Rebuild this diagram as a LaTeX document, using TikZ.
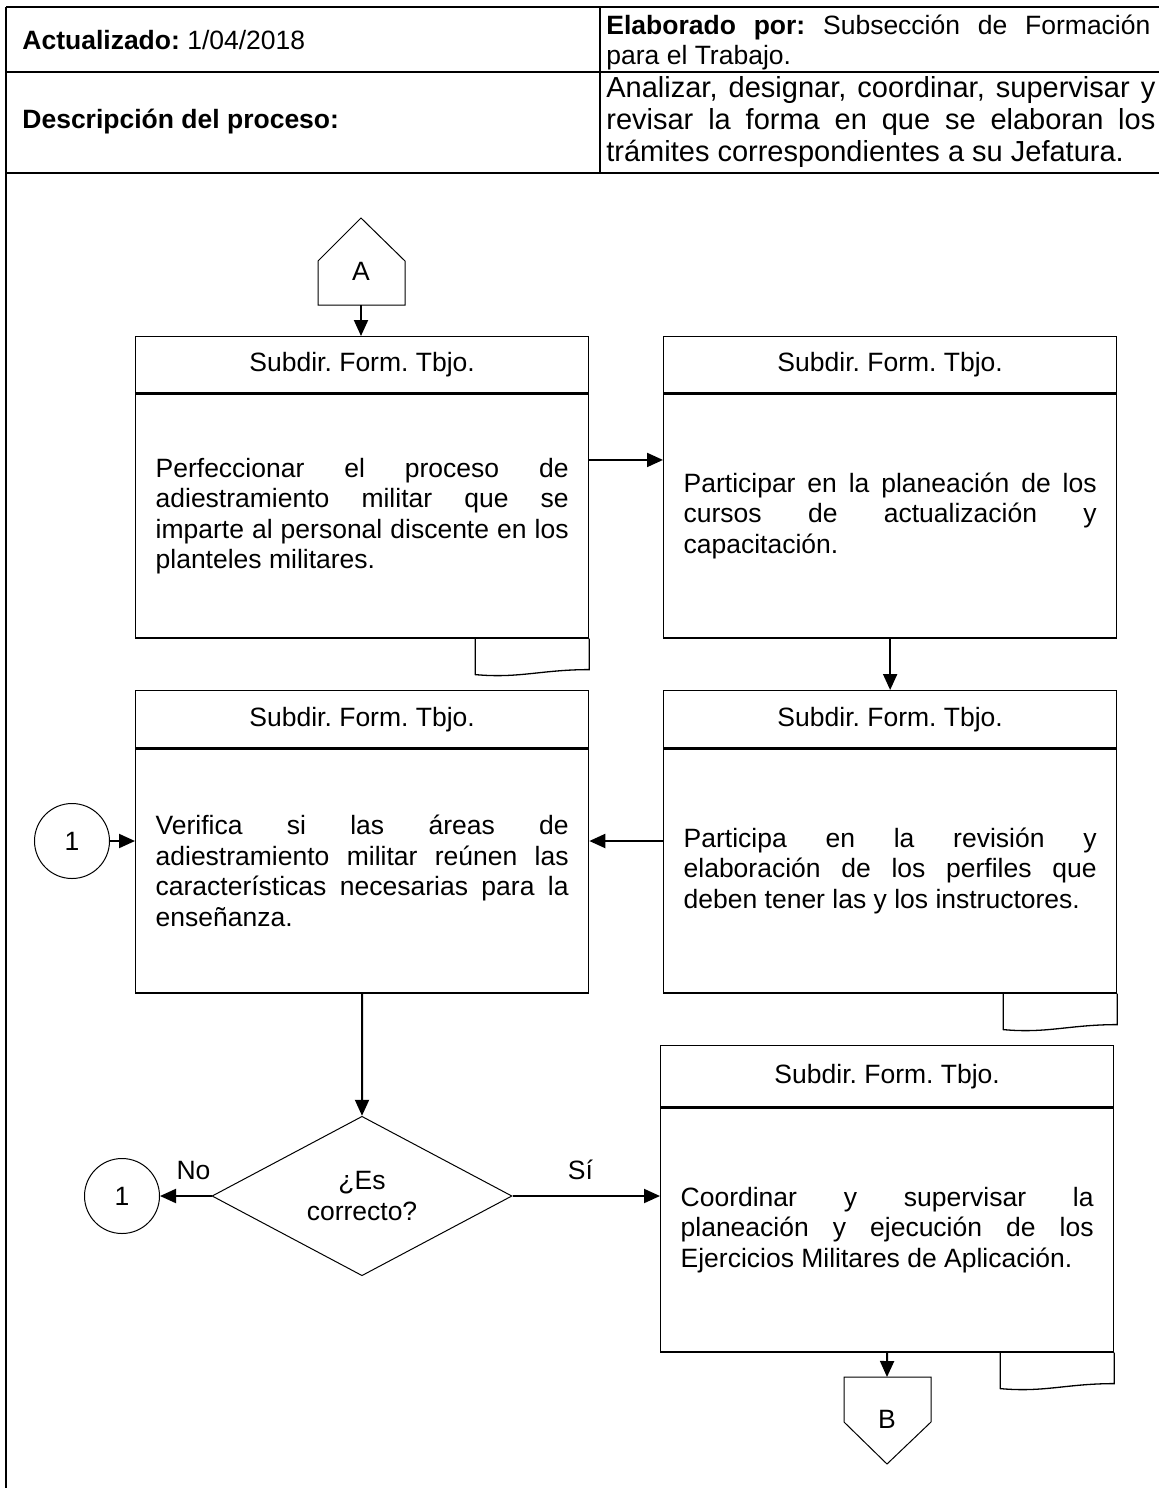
\documentclass[tikz,border=0pt]{standalone}
\usepackage{fontspec}
\setmainfont{Liberation Sans}
\usetikzlibrary{shapes.geometric,arrows.meta}

\hyphenpenalty=10000
\tolerance=9999
\frenchspacing

% document tab under a task box
\newcommand{\doctab}[1]{%
  \draw[tabline] (#1.south east) -- ([yshift=-15.5pt]#1.south east)
    .. controls +(-24pt,0pt) and +(22pt,-2pt) .. ([xshift=-57pt,yshift=-18pt]#1.south east)
    -- ([xshift=-57pt]#1.south east);}
% off-page connectors
\newcommand{\pageup}[1]{%
  \draw[pageline] ([shift={(-43,34)}]#1.center) -- ([shift={(-43,-10)}]#1.center)
    -- ([shift={(0,-53)}]#1.center) -- ([shift={(44,-10)}]#1.center)
    -- ([shift={(44,34)}]#1.center) -- cycle;
  \coordinate (#1-s) at ([shift={(0,34)}]#1.center);}
\newcommand{\pagedown}[1]{%
  \draw[pageline] ([shift={(-43,-42)}]#1.center) -- ([shift={(-43,3)}]#1.center)
    -- ([shift={(0,45)}]#1.center) -- ([shift={(44,3)}]#1.center)
    -- ([shift={(44,-42)}]#1.center) -- cycle;
  \coordinate (#1-n) at ([shift={(0,-42)}]#1.center);}

\begin{document}
\begin{tikzpicture}[
  x=0.5pt, y=-0.5pt,
  every node/.style={font=\fontsize{13.25}{15.25}\selectfont},
  frame/.style={line width=1pt},
  head/.style={draw, line width=0.65pt, minimum width=226.5pt, minimum height=28pt,
    inner sep=0pt, anchor=north west},
  task/.style={draw, line width=0.65pt, text width=206.5pt, inner xsep=10pt,
    inner ysep=0pt, minimum height=122pt, align=justify, anchor=north},
  tabline/.style={line width=0.65pt},
  pageline/.style={line width=0.5pt},
  link/.style={draw, circle, line width=0.5pt, minimum size=37.5pt, inner sep=0pt},
  decision/.style={draw, diamond, line width=0.5pt, minimum width=150pt,
    minimum height=76pt, inner sep=0pt, align=center},
  flow/.style={line width=1pt, -{Triangle[length=8pt,width=7pt]}}
]
\useasboundingbox (0,0) rectangle (1159,1490);

% header table
\draw[frame] (6,7) -- (1159,7) (6,72) -- (1159,72) (6,173) -- (1159,173)
  (6,7) -- (6,1488) (600,7) -- (600,173);
\node[anchor=west, inner sep=0pt] (upd) at (22,40) {\textbf{Actualizado:} 1/04/2018};
\node[anchor=west, inner sep=0pt] (desc) at (22,122) {\textbf{Descripción del proceso:}};
\node[anchor=west, inner sep=0pt, text width=272pt, align=justify,
  font=\fontsize{13.25}{15}\selectfont] (auth) at (606,42)
  {\textbf{Elaborado por:} Subsección de Formación\linebreak para el Trabajo.};
\node[anchor=west, inner sep=0pt, text width=274.5pt, align=justify,
  font=\fontsize{14.5}{16}\selectfont] (goal) at (606,122)
  {Analizar, designar, coordinar, supervisar y\linebreak revisar la forma en que se elaboran los\linebreak trámites correspondientes a su Jefatura.};

% flow
\node (A) at (361,271) {A};
\pageup{A}

\node[head] (h1) at (135,336) {Subdir. Form. Tbjo.};
\node[task] (b1) at (h1.south) {Perfeccionar el proceso de\linebreak adiestramiento militar que se\linebreak imparte al personal discente en los\linebreak planteles militares.};
\doctab{b1}

\node[head] (h2) at (663,336) {Subdir. Form. Tbjo.};
\node[task] (b2) at (h2.south) {Participar en la planeación de los\linebreak cursos de actualización y\linebreak capacitación.};

\node[head, minimum height=28.5pt] (h3) at (135,690) {Subdir. Form. Tbjo.};
\node[task] (b3) at (h3.south) {Verifica si las áreas de\linebreak adiestramiento militar reúnen las\linebreak características necesarias para la\linebreak enseñanza.};

\node[head, minimum height=28.5pt] (h4) at (663,690) {Subdir. Form. Tbjo.};
\node[task] (b4) at (h4.south) {Participa en la revisión y\linebreak elaboración de los perfiles que\linebreak deben tener las y los instructores.};
\doctab{b4}

\node[link] (c1) at (72,841) {1};

\node[decision] (q) at (362,1196) {¿Es\\correcto?};
\node[link] (c2) at (122,1196) {1};

\node[head, minimum height=30.5pt] (h5) at (660,1045) {Subdir. Form. Tbjo.};
\node[task] (b5) at (h5.south) {Coordinar y supervisar la\linebreak planeación y ejecución de los\linebreak Ejercicios Militares de Aplicación.};
\doctab{b5}

\node (B) at (887,1419) {B};
\pagedown{B}

\draw[flow] (A-s) -- (A-s |- h1.north);
\draw[flow] ([yshift=28pt]b1.east) -- ([yshift=28pt]b1.east -| b2.west);
\draw[flow] (b2.south) -- (h4.north);
\draw[flow] (c1) -- (c1 -| b3.west);
\draw[flow] (b4.west |- c1) -- (b3.east |- c1);
\draw[flow] (b3.south) -- (q.north);
\draw[flow] (q.west) -- node[pos=.35, yshift=13pt] {No} (c2);
\draw[flow] (q.east) -- node[pos=.46, yshift=13pt] {Sí} (q.east -| b5.west);
\draw[flow] (b5.south) -- (B-n);
\end{tikzpicture}
\end{document}
